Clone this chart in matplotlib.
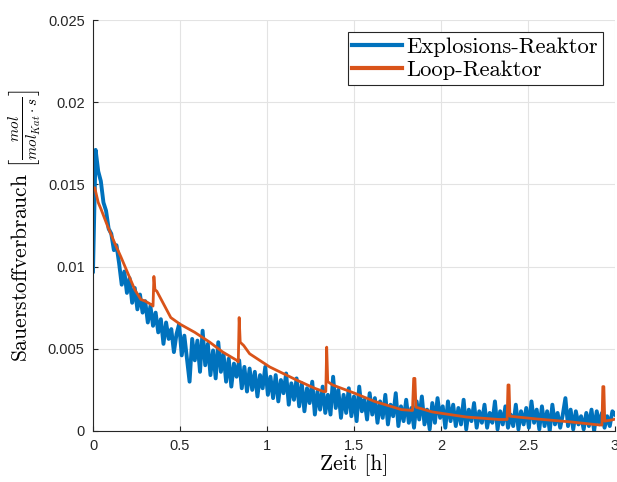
import matplotlib
matplotlib.use("Agg")
import matplotlib.pyplot as plt
import matplotlib.ticker as ticker
import numpy as np

# Explosions-Reaktor, values in 1e-3 mol/(mol_Kat*s), one every 0.015 h
explosions_milli = [
    9.7, 17.1, 15.8, 15.2, 13.9, 13.4, 12.3, 12.0, 11.0, 11.3,
    10.2, 8.9, 9.7, 8.4, 9.3, 7.8, 8.7, 7.4, 8.3, 7.2,
    7.9, 6.6, 7.6, 6.4, 7.2, 6.0, 6.8, 5.3, 6.6, 5.6,
    6.2, 4.8, 5.9, 6.5, 4.6, 5.8, 4.4, 3.0, 5.6, 4.3,
    5.5, 3.6, 6.1, 4.0, 5.3, 3.4, 4.9, 3.2, 5.4, 3.6,
    4.7, 3.0, 4.4, 2.7, 4.1, 3.3, 4.3, 2.6, 3.9, 2.4,
    3.8, 2.5, 3.6, 2.1, 3.4, 2.6, 3.9, 2.2, 3.3, 2.0,
    3.4, 1.8, 3.1, 2.3, 3.5, 1.6, 2.9, 1.9, 3.2, 1.5,
    2.9, 1.2, 2.6, 1.7, 3.0, 1.0, 2.4, 1.3, 2.7, 1.1,
    2.2, 1.0, 3.3, 1.4, 2.5, 0.8, 2.2, 1.1, 2.6, 0.9,
    2.1, 0.6, 2.7, 1.2, 1.9, 0.7, 2.3, 1.0, 2.0, 0.5,
    1.8, 0.8, 2.2, 0.4, 1.6, 0.9, 2.3, 0.3, 1.5, 0.6,
    1.9, 0.5, 1.4, 0.2, 1.8, 0.7, 2.1, 0.4, 1.3, 0.1,
    1.7, 0.5, 2.0, 0.8, 1.5, 0.2, 1.8, 0.6, 1.6, 0.3,
    1.4, 0.4, 1.9, 0.1, 1.3, 0.6, 1.7, 0.2, 1.2, 0.5,
    1.6, 0.2, 1.1, 0.5, 1.8, 0.1, 1.2, 0.4, 1.5, 0.2,
    1.0, 0.3, 1.6, 0.1, 1.2, 0.4, 1.4, 0.2, 1.8, 0.5,
    1.3, 0.1, 1.5, 0.3, 1.2, 0.0, 1.6, 0.4, 1.1, 0.2,
    1.0, 2.0, 0.3, 1.3, 0.1, 1.2, 0.4, 0.9, 0.1, 1.1,
    0.3, 1.3, 0.0, 1.2, 0.4, 1.1, 0.2, 0.9, 0.3, 1.2, 1.0,
]
explosions_zeit = np.linspace(0, 3, len(explosions_milli))

# Loop-Reaktor, read point by point (spikes at the refills)
loop_zeit = [
    0.0, 0.01, 0.03, 0.046, 0.086, 0.126, 0.16, 0.20, 0.24, 0.275,
    0.30, 0.333, 0.345, 0.350, 0.356, 0.367, 0.447, 0.5, 0.585, 0.671,
    0.746, 0.826, 0.835, 0.840, 0.846, 0.866, 0.90, 1.015, 1.17, 1.274,
    1.325, 1.338, 1.343, 1.349, 1.377, 1.503, 1.618, 1.773, 1.836, 1.843,
    1.850, 1.856, 1.95, 2.146, 2.335, 2.380, 2.385, 2.391, 2.396, 2.44,
    2.553, 2.748, 2.897, 2.925, 2.930, 2.936, 2.941, 2.98, 3.0,
]
loop_milli = [
    14.7, 14.8, 13.9, 13.5, 12.4, 11.4, 10.6, 9.6, 8.6, 8.0,
    7.9, 7.7, 7.6, 9.4, 8.6, 8.5, 6.9, 6.5, 6.0, 5.4,
    4.8, 4.3, 4.2, 6.9, 5.4, 5.2, 4.7, 3.9, 3.1, 2.6,
    2.4, 2.4, 5.1, 3.0, 2.8, 2.3, 1.8, 1.3, 1.25, 3.2,
    3.2, 1.45, 1.16, 0.85, 0.70, 0.70, 2.8, 2.8, 0.9, 0.85,
    0.73, 0.55, 0.38, 0.36, 2.7, 2.7, 0.6, 0.67, 0.72,
]

blau = '#0072BD'
orange = '#D95319'
dunkel = '#262626'

plt.rcParams['mathtext.fontset'] = 'cm'
plt.rcParams['axes.unicode_minus'] = False

fig = plt.figure(figsize=(6.17, 4.82), dpi=100)
ax = fig.add_axes([93 / 617, 51 / 482, 522 / 617, 411 / 482])

ax.plot(explosions_zeit, np.array(explosions_milli) * 1e-3, color=blau,
        linewidth=2.8, label='Explosions-Reaktor')
ax.plot(loop_zeit, np.array(loop_milli) * 1e-3, color=orange,
        linewidth=2.0, label='Loop-Reaktor')

ax.set_xlim(0, 3)
ax.set_ylim(0, 0.025)
ax.xaxis.set_major_locator(ticker.MultipleLocator(0.5))
ax.yaxis.set_major_locator(ticker.MultipleLocator(0.005))
ax.xaxis.set_major_formatter(ticker.FormatStrFormatter('%g'))
ax.yaxis.set_major_formatter(ticker.FormatStrFormatter('%g'))

ax.grid(True, color='#e3e3e3', linewidth=0.8)
ax.set_axisbelow(True)
for s in ['top', 'right']:
    ax.spines[s].set_visible(False)
for s in ['left', 'bottom']:
    ax.spines[s].set_color(dunkel)
    ax.spines[s].set_linewidth(0.8)

ax.tick_params(direction='in', length=3.5, width=0.8, color=dunkel,
               labelcolor=dunkel, labelsize=10.5, pad=6)
for lab in ax.get_xticklabels() + ax.get_yticklabels():
    lab.set_fontfamily('Liberation Sans')

ax.set_xlabel('Zeit [h]', fontfamily='cmr10', fontsize=15.5, labelpad=1)
ax.set_ylabel(r'Sauerstoffverbrauch $\left[\frac{mol}{mol_{Kat}\cdot s}\right]$',
              fontfamily='cmr10', fontsize=15.5, labelpad=4)

leg = ax.legend(loc='upper right', prop={'family': 'cmr10', 'size': 16.3},
                fancybox=False, framealpha=1, edgecolor=dunkel,
                handlelength=2.2, handletextpad=0.2, labelspacing=0.15,
                borderpad=0.2, borderaxespad=0.55)
leg.get_frame().set_linewidth(0.8)
for line in leg.get_lines():
    line.set_linewidth(3)

plt.savefig('out.png', dpi=100)
